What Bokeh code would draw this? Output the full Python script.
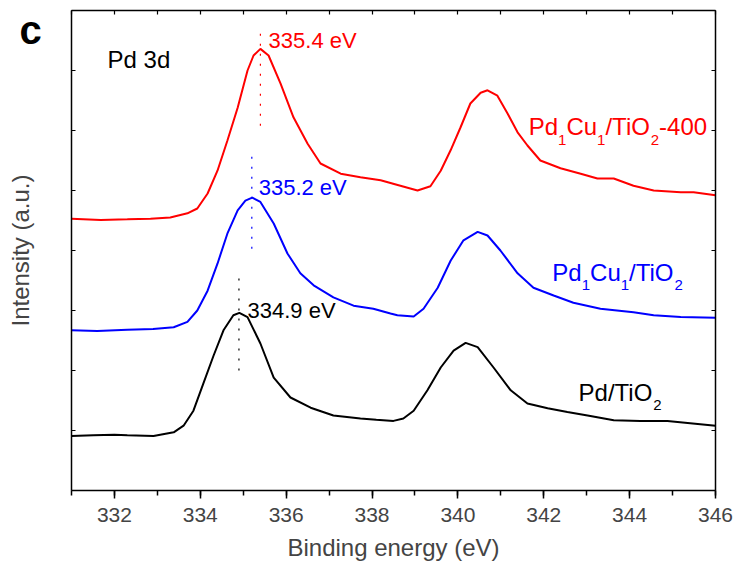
from bokeh.plotting import figure
from bokeh.models import Range1d, LinearAxis, SingleIntervalTicker, Label, CustomJSTickFormatter
from bokeh.embed import file_html
from bokeh.resources import INLINE

# ---- data (binding energy in eV, intensity in a.u.) ----
red_x = [331.00, 331.68, 332.30, 332.84, 333.30, 333.70, 333.93, 334.17, 334.40, 334.63,
         334.87, 335.10, 335.24, 335.40, 335.59, 335.87, 336.17, 336.50, 336.80, 337.27,
         337.73, 338.20, 338.66, 339.06, 339.36, 339.60, 339.83, 340.06, 340.29, 340.53,
         340.69, 340.92, 341.16, 341.39, 341.62, 341.92, 342.39, 342.86, 343.25, 343.63,
         344.09, 344.56, 345.19, 345.49, 346.00]
red_y = [4.53, 4.51, 4.52, 4.53, 4.55, 4.62, 4.70, 4.95, 5.33, 5.83,
         6.38, 7.00, 7.25, 7.36, 7.25, 6.78, 6.22, 5.78, 5.45, 5.28,
         5.22, 5.17, 5.08, 5.00, 5.07, 5.33, 5.67, 6.05, 6.45, 6.63,
         6.67, 6.58, 6.28, 5.97, 5.75, 5.50, 5.37, 5.28, 5.20, 5.20,
         5.08, 5.00, 4.97, 4.97, 4.92]

blue_x = [331.00, 331.60, 332.30, 332.90, 333.38, 333.70, 333.93, 334.17, 334.40, 334.63,
          334.87, 335.05, 335.21, 335.40, 335.71, 336.03, 336.33, 336.64, 337.10, 337.57,
          338.03, 338.43, 338.59, 338.97, 339.20, 339.53, 339.83, 340.13, 340.46, 340.69,
          340.99, 341.39, 341.76, 342.23, 342.69, 343.32, 344.09, 344.56, 345.19, 346.00]
blue_y = [2.67, 2.66, 2.68, 2.69, 2.72, 2.81, 3.00, 3.33, 3.78, 4.28,
          4.67, 4.83, 4.88, 4.81, 4.45, 3.95, 3.62, 3.42, 3.22, 3.08,
          3.03, 2.95, 2.92, 2.90, 3.03, 3.38, 3.83, 4.17, 4.31, 4.25,
          4.00, 3.62, 3.38, 3.25, 3.13, 3.03, 2.97, 2.92, 2.89, 2.88]

black_x = [331.00, 331.51, 332.00, 332.30, 332.91, 333.38, 333.61, 333.84, 334.07, 334.31,
           334.54, 334.77, 334.91, 335.10, 335.40, 335.71, 336.10, 336.57, 337.10, 337.73,
           338.10, 338.50, 338.73, 338.97, 339.29, 339.60, 339.90, 340.18, 340.46, 340.83,
           341.23, 341.62, 342.09, 342.55, 343.02, 343.63, 344.25, 344.88, 346.00]
black_y = [0.91, 0.92, 0.93, 0.92, 0.91, 0.97, 1.08, 1.33, 1.78, 2.25,
           2.67, 2.92, 2.96, 2.89, 2.45, 1.88, 1.55, 1.38, 1.25, 1.20,
           1.18, 1.16, 1.20, 1.33, 1.67, 2.05, 2.33, 2.46, 2.39, 2.05,
           1.67, 1.45, 1.37, 1.31, 1.25, 1.17, 1.16, 1.16, 1.08]

# peak markers (dotted lines) and their labels
peak_x = [335.4, 335.2, 334.9]
peak_top = [7.72, 5.67, 3.62]
peak_bottom = [6.08, 4.03, 2.00]
peak_labels = ["335.4 eV", "335.2 eV", "334.9 eV"]
peak_label_x = [335.59, 335.36, 335.10]
peak_label_y = [7.38, 4.92, 2.87]

colors = ["#FF0000", "#0000FF", "#000000"]

# sample names: (text, is_subscript) pieces
sample_names = [
    [("Pd", False), ("1", True), ("Cu", False), ("1", True), ("/TiO", False), ("2", True), ("-400", False)],
    [("Pd", False), ("1", True), ("Cu", False), ("1", True), ("/TiO", False), ("2", True)],
    [("Pd/TiO", False), ("2", True)],
]
sample_x = [341.65, 342.20, 342.81]
sample_y = [5.92, 3.50, 1.50]

FONT = "Liberation Sans"
LIFT = 0.35  # baseline correction (fraction of font size)

p = figure(frame_width=644, frame_height=480,
           x_range=Range1d(331, 346), y_range=Range1d(0, 8),
           output_backend="svg", toolbar_location=None, y_axis_location=None,
           min_border_left=71, min_border_right=18, min_border_top=10, min_border_bottom=74,
           background_fill_color="white", border_fill_color="white")
p.grid.visible = False
p.outline_line_color = None

# curves
for xs, ys, c in [(red_x, red_y, colors[0]), (blue_x, blue_y, colors[1]), (black_x, black_y, colors[2])]:
    p.line(xs, ys, line_color=c, line_width=2)

# dotted peak markers
for i in range(3):
    p.segment(x0=[peak_x[i]], y0=[peak_bottom[i]], x1=[peak_x[i]], y1=[peak_top[i]],
              line_color=colors[i], line_width=1.2, line_dash="2 8")

blank = CustomJSTickFormatter(code="return ''")

# bottom axis
xa = p.xaxis[0]
xa.ticker = SingleIntervalTicker(interval=2, num_minor_ticks=2)
xa.major_tick_in = 0
xa.major_tick_out = 8
xa.minor_tick_in = 0
xa.minor_tick_out = 5
xa.axis_line_width = 1.5
xa.major_tick_line_width = 1.5
xa.minor_tick_line_width = 1.5
xa.major_label_text_font = FONT
xa.major_label_text_font_size = "21px"
xa.major_label_standoff = 9
xa.axis_label = "Binding energy (eV)"
xa.axis_label_text_font = FONT
xa.axis_label_text_font_size = "24px"
xa.axis_label_text_font_style = "normal"
xa.axis_label_standoff = 9

def frame_axis():
    return LinearAxis(ticker=SingleIntervalTicker(interval=1, num_minor_ticks=0), formatter=blank,
                      major_tick_in=4, major_tick_out=0, minor_tick_in=0, minor_tick_out=0,
                      major_label_text_font_size="1px", major_label_standoff=0,
                      axis_line_width=1.5, major_tick_line_width=1.2)

# left frame axis (closest to the frame)
p.add_layout(frame_axis(), "left")
# panel letter in its own side panel (side panels are not clipped to the frame)
p.add_layout(Label(x=-30, y=461, x_units="screen", y_units="screen",
                   text="c", text_font=FONT, text_font_size="40px",
                   text_font_style="bold", text_baseline="alphabetic", text_color="black"), "left")
# outer invisible axis carrying the y title
ytitle = LinearAxis(ticker=SingleIntervalTicker(interval=1, num_minor_ticks=0), formatter=blank,
                    axis_line_color=None, major_tick_line_color=None, minor_tick_line_color=None,
                    major_tick_in=0, major_tick_out=0, minor_tick_in=0, minor_tick_out=0,
                    major_label_text_font_size="1px", major_label_standoff=0,
                    axis_label="Intensity (a.u.)", axis_label_text_font=FONT,
                    axis_label_text_font_size="24px", axis_label_text_font_style="normal",
                    axis_label_standoff=16)
p.add_layout(ytitle, "left")

p.add_layout(frame_axis(), "above")
p.add_layout(frame_axis(), "right")

p.add_layout(Label(x=331.84, y=7.05, y_offset=LIFT * 24, text="Pd 3d", text_font=FONT,
                   text_font_size="24px", text_baseline="alphabetic", text_color="black"))
for i in range(3):
    p.add_layout(Label(x=peak_label_x[i], y=peak_label_y[i], y_offset=LIFT * 22, text=peak_labels[i],
                       text_font=FONT, text_font_size="22px", text_baseline="alphabetic",
                       text_color=colors[i]))

ARIAL_W = {"P": 0.667, "d": 0.556, "C": 0.722, "u": 0.556, "/": 0.278, "T": 0.611,
           "i": 0.222, "O": 0.778, "-": 0.333}
def text_width(t, size):
    return sum(ARIAL_W.get(ch, 0.556) for ch in t) * size

MAIN, SUB = 24, 15
for i in range(3):
    off = 0.0
    for t, is_sub in sample_names[i]:
        size = SUB if is_sub else MAIN
        dy = LIFT * size - (10 if is_sub else 0)
        p.add_layout(Label(x=sample_x[i], y=sample_y[i], x_offset=off, y_offset=dy,
                           text=t, text_font=FONT, text_font_size=f"{size}px",
                           text_baseline="alphabetic", text_color=colors[i]))
        off += text_width(t, size)

open("out.html", "w").write(file_html(p, INLINE))
